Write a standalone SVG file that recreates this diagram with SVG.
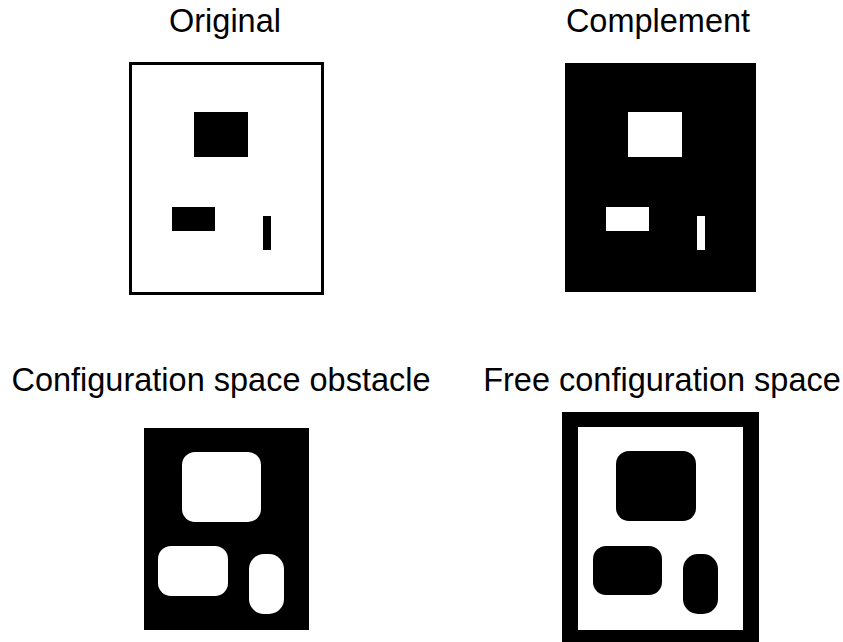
<svg xmlns="http://www.w3.org/2000/svg" width="843" height="642" viewBox="0 0 843 642">
<style>
.t{font-family:"Liberation Sans",Arial,sans-serif;font-size:32.5px;fill:#000;text-anchor:middle}
.k{fill:#000}
.w{fill:#fff}
</style>
<rect x="0" y="0" width="843" height="642" fill="#fff"/>
<g id="original">
<text class="t" x="225" y="32">Original</text>
<rect x="130.5" y="63.5" width="192" height="230" fill="#fff" stroke="#000" stroke-width="3"/>
<rect class="k" x="194" y="112" width="54" height="45"/>
<rect class="k" x="172" y="207" width="43" height="24"/>
<rect class="k" x="263" y="216" width="8" height="34"/>
</g>
<g id="complement">
<text class="t" x="658" y="32">Complement</text>
<rect class="k" x="565" y="63" width="191" height="229"/>
<rect class="w" x="628" y="112" width="54" height="45"/>
<rect class="w" x="606" y="207" width="43" height="24"/>
<rect class="w" x="697" y="216" width="8" height="34"/>
</g>
<g id="cspace-obstacle">
<text class="t" x="221" y="391">Configuration space obstacle</text>
<rect class="k" x="144" y="428" width="165" height="202"/>
<rect class="w" x="182" y="452" width="79" height="70" rx="13"/>
<rect class="w" x="158" y="546" width="70" height="50" rx="13"/>
<rect class="w" x="249" y="554" width="35" height="60" rx="15"/>
</g>
<g id="free-cspace">
<text class="t" x="662" y="391">Free configuration space</text>
<rect class="k" x="562" y="412" width="197" height="235"/>
<rect class="w" x="578" y="427" width="165" height="203"/>
<rect class="k" x="616" y="451" width="80" height="70" rx="13"/>
<rect class="k" x="593" y="546" width="69" height="49" rx="13"/>
<rect class="k" x="683" y="554" width="35" height="60" rx="15"/>
</g>
</svg>
